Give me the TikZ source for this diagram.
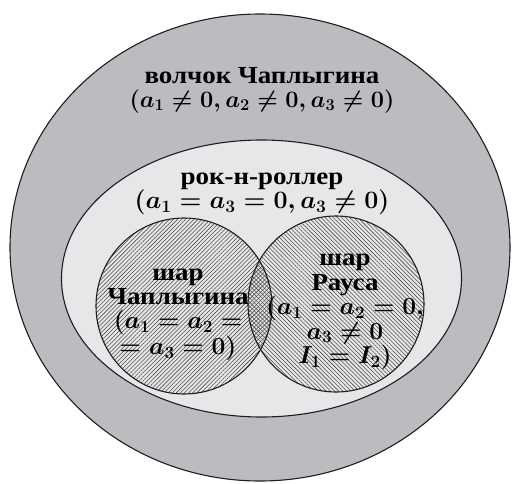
\documentclass[tikz,border=0pt]{standalone}
\usepackage{fix-cm}
\usepackage{fontspec}
\setmainfont{Liberation Serif}[FakeStretch=1.1]
\usetikzlibrary{patterns.meta}
\definecolor{outerg}{RGB}{187,188,192}
\definecolor{innerg}{RGB}{230,231,233}
\definecolor{hatchc}{RGB}{75,75,75}
\definecolor{edgec}{RGB}{30,30,30}
\newcommand\mth[2][24.5]{{\fontsize{#1}{24}\selectfont$#2$}}
\tikzset{
  lbl/.style={font=\bfseries\boldmath\fontsize{24.5}{24}\selectfont, align=center, inner sep=0pt, text=black},
  region/.style={draw=edgec, line width=1.1pt},
  hatchA/.style={pattern={Lines[angle=45,distance=2.9pt,line width=0.55pt]}, pattern color=hatchc},
  hatchB/.style={pattern={Lines[angle=-45,distance=2.9pt,line width=0.55pt]}, pattern color=hatchc}
}
\begin{document}
\begin{tikzpicture}[x=1pt,y=-1pt]
\useasboundingbox (0,0) rectangle (512,483);
% outer region
\fill[outerg] (260,247.5) ellipse [x radius=250, y radius=233.5];
\draw[region] (260,247.5) ellipse [x radius=250, y radius=233.5];
% inner region
\fill[innerg] (261.5,278.5) ellipse [x radius=200, y radius=138.5];
\draw[region] (261.5,278.5) ellipse [x radius=200, y radius=138.5];
% circles
\path[hatchA] (184,306) circle [radius=88];
\path[hatchB] (336,304) circle [radius=88];
\draw[region] (184,306) circle [radius=88];
\draw[region] (336,304) circle [radius=88];
% labels
\node[lbl] (top) at (262,90) {волчок Чаплыгина\\\mth[23.5]{(a_1\neq 0, a_2\neq 0, a_3\neq 0)}};
\node[lbl] (rock) at (262,194) {рок-н-роллер\\\mth[25]{(a_1=a_3=0, a_3\neq 0)}};
\node[lbl] (chap) at (178,315) {шар\\Чаплыгина\\\mth{(a_1=a_2=}\\\mth{=a_3=0)}};
\node[lbl, font=\bfseries\boldmath\fontsize{24.5}{24.5}\selectfont] (raus) at (345,312) {шар\\Рауса\\\mth{(a_1=a_2=0,}\\\mth{a_3\neq 0}\\\mth{I_1=I_2)}};
\end{tikzpicture}
\end{document}
